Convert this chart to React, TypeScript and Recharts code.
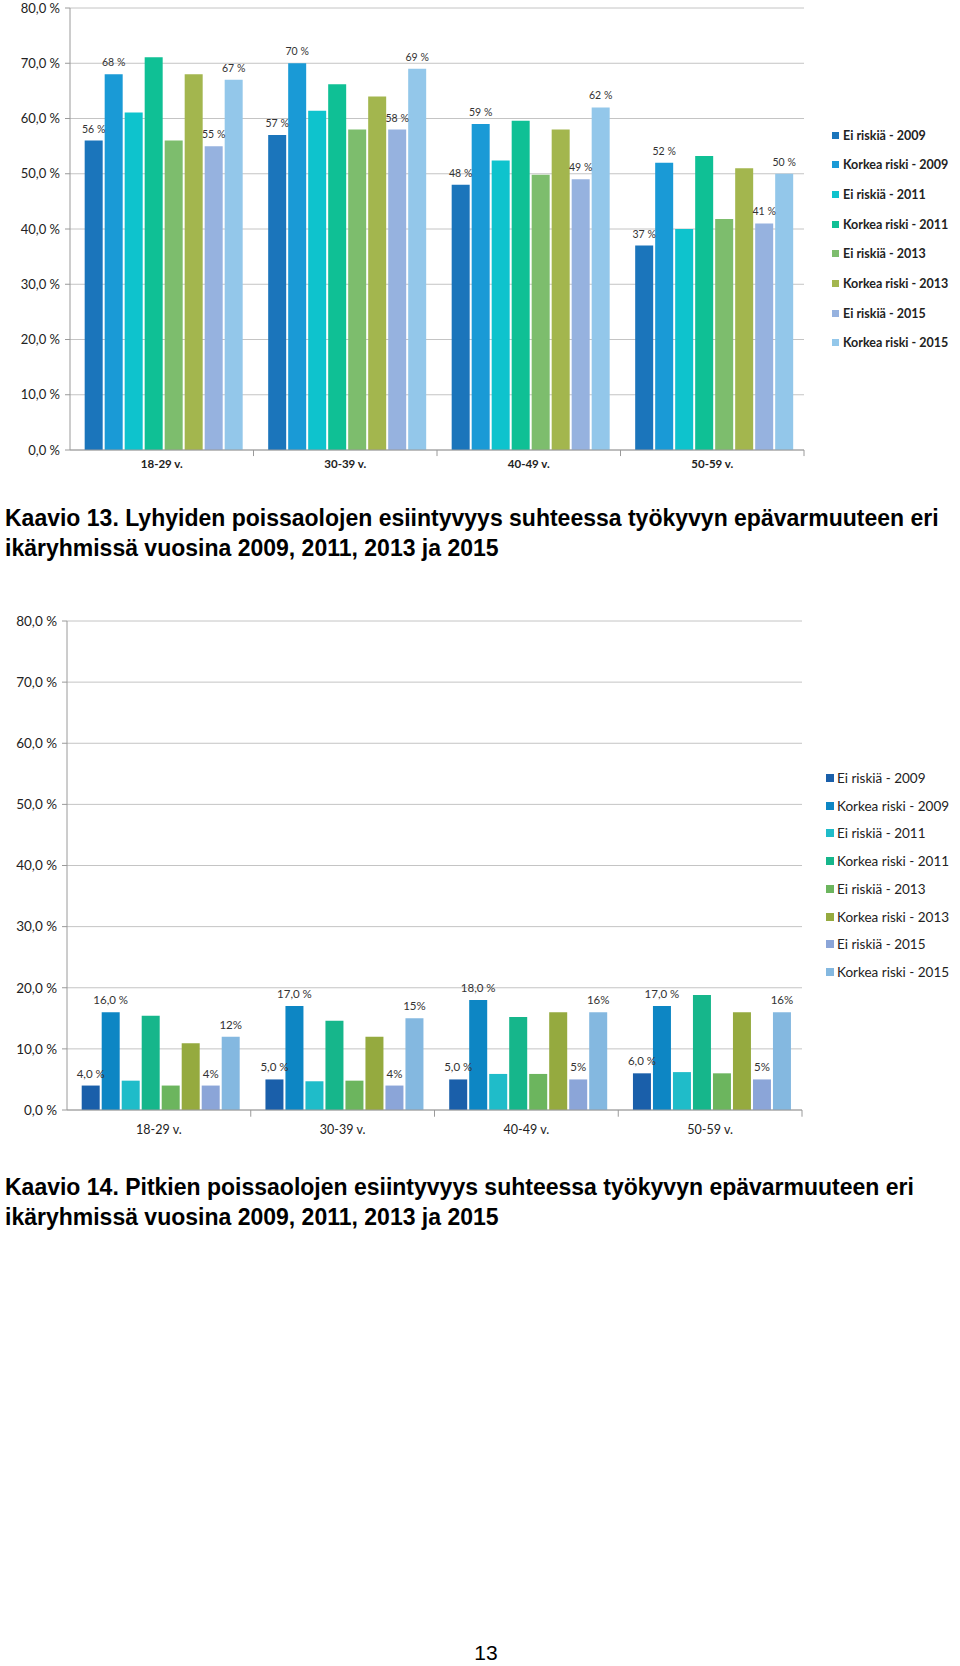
import React from 'react';
import { BarChart, Bar, XAxis, YAxis, CartesianGrid, LabelList, ReferenceLine } from 'recharts';

const categories = ['18-29 v.', '30-39 v.', '40-49 v.', '50-59 v.'];
const seriesNames = [
  'Ei riskiä - 2009',
  'Korkea riski - 2009',
  'Ei riskiä - 2011',
  'Korkea riski - 2011',
  'Ei riskiä - 2013',
  'Korkea riski - 2013',
  'Ei riskiä - 2015',
  'Korkea riski - 2015',
];
const yTicks = [0, 10, 20, 30, 40, 50, 60, 70, 80];

// Kaavio 13 – lyhyet poissaolot
const shortEi2009 = [56, 57, 48, 37];
const shortKorkea2009 = [68, 70, 59, 52];
const shortEi2011 = [61.1, 61.4, 52.4, 40];
const shortKorkea2011 = [71.1, 66.2, 59.6, 53.2];
const shortEi2013 = [56, 58, 49.8, 41.8];
const shortKorkea2013 = [68, 64, 58, 51];
const shortEi2015 = [55, 58, 49, 41];
const shortKorkea2015 = [67, 69, 62, 50];

// Kaavio 14 – pitkät poissaolot
const longEi2009 = [4, 5, 5, 6];
const longKorkea2009 = [16, 17, 18, 17];
const longEi2011 = [4.8, 4.7, 5.9, 6.2];
const longKorkea2011 = [15.4, 14.6, 15.2, 18.8];
const longEi2013 = [4, 4.8, 5.9, 6];
const longKorkea2013 = [10.9, 12, 16, 16];
const longEi2015 = [4, 4, 5, 5];
const longKorkea2015 = [12, 15, 16, 16];

const shortColors = ['#1b75bb', '#1a9ad6', '#0ec3cd', '#0fc095', '#7dbd6d', '#a3b64e', '#96b2df', '#93c7ea'];
const longColors = ['#1a5faa', '#0d86c4', '#1fbcc9', '#16b68b', '#6cb55e', '#95aa3f', '#8ba5d8', '#84b8e0'];

const shortSeries = [shortEi2009, shortKorkea2009, shortEi2011, shortKorkea2011, shortEi2013, shortKorkea2013, shortEi2015, shortKorkea2015];
const longSeries = [longEi2009, longKorkea2009, longEi2011, longKorkea2011, longEi2013, longKorkea2013, longEi2015, longKorkea2015];

const buildRows = (series: number[][]) =>
  categories.map((c, i) => {
    const row: Record<string, string | number> = { category: c };
    series.forEach((s, k) => {
      row['s' + k] = s[i];
    });
    return row;
  });

const shortRows = buildRows(shortSeries);
const longRows = buildRows(longSeries);

const fmtAxis = (v: number) => `${v.toFixed(1).replace('.', ',')} %`;
const fmtShort = (v: any) => `${Math.round(Number(v))} %`;
const fmtLongDec = (v: any) => `${Number(v).toFixed(1).replace('.', ',')} %`;
const fmtLongInt = (v: any) => `${Math.round(Number(v))}%`;

const chartFont = 'Lato, "Open Sans", sans-serif';
const captionFont = '"Liberation Sans", Arial, sans-serif';

const makeLabel = (fmt: (v: any) => string, fontSize: number) => (props: any) => {
  const vb = props.viewBox || {};
  const x = props.x ?? vb.x;
  const y = props.y ?? vb.y;
  const w = props.width ?? vb.width ?? 0;
  return (
    <text x={x + w / 2} y={y - 8} textAnchor="middle" fontFamily={chartFont} fontSize={fontSize} fill="#333">
      {fmt(props.value)}
    </text>
  );
};

const boundaryTicks = (color: string) => [
  ...categories.slice(1).map((c) => (
    <ReferenceLine
      key={'b' + c}
      segment={[{ x: c, y: 0 }, { x: c, y: -1.1 }]}
      position="start"
      ifOverflow="visible"
      stroke={color}
    />
  )),
  <ReferenceLine
    key="bend"
    segment={[{ x: categories[categories.length - 1], y: 0 }, { x: categories[categories.length - 1], y: -1.1 }]}
    position="end"
    ifOverflow="visible"
    stroke={color}
  />,
];

function Legend({ colors, left, top, step, size, fontSize, bold }: any) {
  return (
    <>
      {seriesNames.map((n, i) => (
        <div
          key={n}
          style={{
            position: 'absolute',
            left,
            top: top + i * step - 10,
            height: 20,
            display: 'flex',
            alignItems: 'center',
            fontFamily: chartFont,
            fontSize,
            fontWeight: bold ? 700 : 400,
            color: '#222',
            whiteSpace: 'nowrap',
          }}
        >
          <span style={{ display: 'inline-block', width: size, height: size, background: colors[i], marginRight: bold ? 4 : 3 }} />
          {n}
        </div>
      ))}
    </>
  );
}

export default function App() {
  const axisStroke = '#9a9a9a';
  const captionStyle: React.CSSProperties = {
    position: 'absolute',
    left: 5,
    fontFamily: captionFont,
    fontSize: 23,
    fontWeight: 700,
    lineHeight: '29.5px',
    color: '#000',
    whiteSpace: 'nowrap',
  };
  return (
    <div style={{ position: 'absolute', left: 0, top: 0, width: 960, height: 1666, background: '#fff', overflow: 'hidden' }}>
      {/* Kaavio 13 */}
      <div style={{ position: 'absolute', left: 0, top: 0 }}>
        <BarChart width={960} height={480} data={shortRows} margin={{ top: 8, right: 156, bottom: 0, left: 0 }} barCategoryGap="8%" barGap={2}>
          <CartesianGrid vertical={false} stroke="#c4c4c4" />
          <XAxis
            dataKey="category"
            height={30}
            tickLine={false}
            tickSize={0}
            tickMargin={10}
            stroke={axisStroke}
            tick={{ fontFamily: chartFont, fontSize: 11.5, fontWeight: 700, fill: '#222' }}
          />
          <YAxis
            width={70}
            domain={[0, 80]}
            ticks={yTicks}
            tickFormatter={fmtAxis}
            tickSize={5}
            tickMargin={5}
            stroke={axisStroke}
            tick={{ fontFamily: chartFont, fontSize: 13, fill: '#222' }}
          />
          {boundaryTicks(axisStroke)}
          {shortColors.map((col, k) => (
            <Bar key={k} dataKey={'s' + k} name={seriesNames[k]} fill={col} isAnimationActive={false}>
              {(k === 0 || k === 1 || k === 6 || k === 7) && (
                <LabelList dataKey={'s' + k} content={makeLabel(fmtShort, 10.5)} />
              )}
            </Bar>
          ))}
        </BarChart>
      </div>
      <Legend colors={shortColors} left={832} top={135} step={29.7} size={7} fontSize={12.5} bold />

      <div style={{ ...captionStyle, top: 504 }}>
        <div>Kaavio 13. Lyhyiden poissaolojen esiintyvyys suhteessa työkyvyn epävarmuuteen eri</div>
        <div>ikäryhmissä vuosina 2009, 2011, 2013 ja 2015</div>
      </div>

      {/* Kaavio 14 */}
      <div style={{ position: 'absolute', left: 0, top: 570 }}>
        <BarChart width={960} height={570} data={longRows} margin={{ top: 51, right: 158, bottom: 0, left: 0 }} barCategoryGap="8%" barGap={2}>
          <CartesianGrid vertical={false} stroke="#c4c4c4" />
          <XAxis
            dataKey="category"
            height={30}
            tickLine={false}
            tickSize={0}
            tickMargin={15}
            stroke={axisStroke}
            tick={{ fontFamily: chartFont, fontSize: 12.5, fill: '#222' }}
          />
          <YAxis
            width={67}
            domain={[0, 80]}
            ticks={yTicks}
            tickFormatter={fmtAxis}
            tickSize={5}
            tickMargin={5}
            stroke={axisStroke}
            tick={{ fontFamily: chartFont, fontSize: 13.5, fill: '#222' }}
          />
          {boundaryTicks(axisStroke)}
          {longColors.map((col, k) => (
            <Bar key={k} dataKey={'s' + k} name={seriesNames[k]} fill={col} isAnimationActive={false}>
              {(k === 0 || k === 1 || k === 6 || k === 7) && (
                <LabelList dataKey={'s' + k} content={makeLabel(k < 2 ? fmtLongDec : fmtLongInt, 11.5)} />
              )}
            </Bar>
          ))}
        </BarChart>
      </div>
      <Legend colors={longColors} left={826} top={778} step={27.7} size={8} fontSize={13.5} />

      <div style={{ ...captionStyle, top: 1173 }}>
        <div>Kaavio 14. Pitkien poissaolojen esiintyvyys suhteessa työkyvyn epävarmuuteen eri</div>
        <div>ikäryhmissä vuosina 2009, 2011, 2013 ja 2015</div>
      </div>

      <div style={{ position: 'absolute', left: 0, width: 972, top: 1641, textAlign: 'center', fontFamily: captionFont, fontSize: 21, color: '#000' }}>13</div>
    </div>
  );
}
